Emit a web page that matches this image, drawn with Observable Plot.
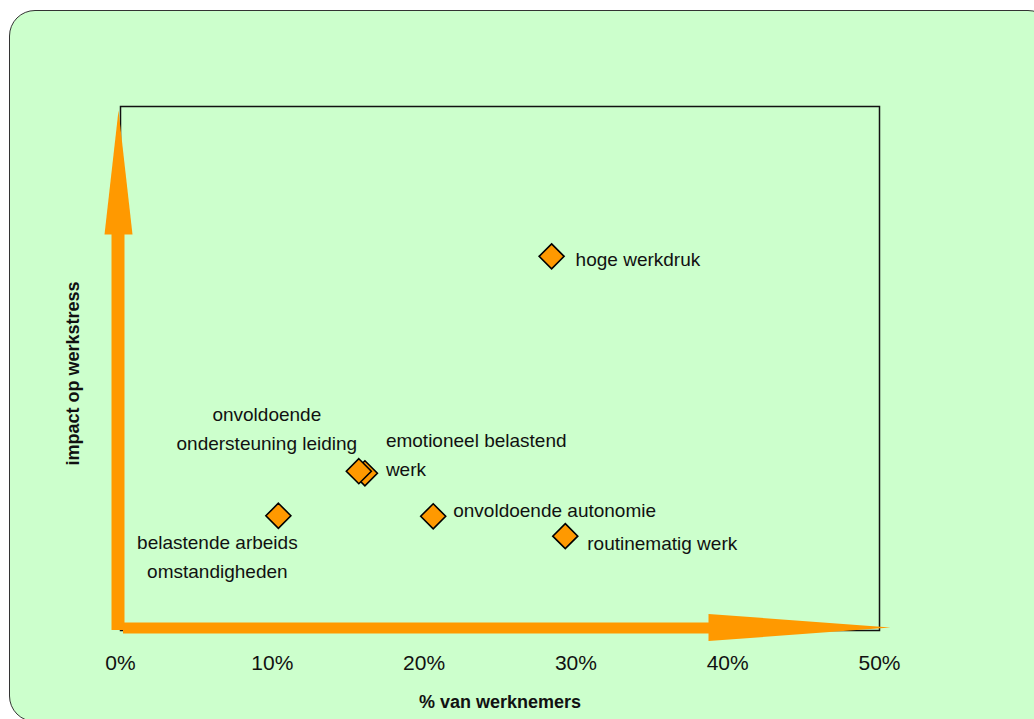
<!DOCTYPE html>
<html><head><meta charset="utf-8">
<script src="https://cdn.jsdelivr.net/npm/d3@7"></script>
<script src="https://cdn.jsdelivr.net/npm/@observablehq/plot@0.6"></script>
<style>
html,body{margin:0;padding:0;background:#fff;width:1034px;height:719px;overflow:hidden;}
#panel{position:absolute;left:9px;top:10px;width:1045px;height:712px;box-sizing:border-box;border:1.5px solid #333;border-radius:26px;background:#CCFFCC;}
#chart{position:absolute;left:0;top:0;}
</style></head><body>
<div id="panel"></div><div id="chart"></div>
<script>
// Data
const factors = ["hoge werkdruk", "emotioneel belastend werk", "onvoldoende ondersteuning leiding", "belastende arbeidsomstandigheden", "onvoldoende autonomie", "routinematig werk"];
const labels = ["hoge werkdruk", "emotioneel belastend\nwerk", "onvoldoende\nondersteuning leiding", "belastende arbeids\nomstandigheden", "onvoldoende autonomie", "routinematig werk"];
const pctWorkers = [28.4, 16.1, 15.7, 10.4, 20.6, 29.3];
const impact = [71.4, 30.0, 30.4, 21.9, 21.8, 18.0];
const xTicks = [0, 10, 20, 30, 40, 50];
const xTitle = "% van werknemers";
const yTitle = "impact op werkstress";

const points = factors.map((f, i) => ({factor: f, label: labels[i], pct: pctWorkers[i], impact: impact[i]}));

const ORANGE = "#FF9900";
const diamond = {draw(ctx) { const r = 12.5; ctx.moveTo(0, -r); ctx.lineTo(r, 0); ctx.lineTo(0, r); ctx.lineTo(-r, 0); ctx.closePath(); }};
const headUp = {draw(ctx) { ctx.moveTo(0, 0); ctx.lineTo(14, 124); ctx.lineTo(-14, 124); ctx.closePath(); }};
const headRight = {draw(ctx) { ctx.moveTo(0, 0); ctx.lineTo(-182, -13.5); ctx.lineTo(-182, 13.5); ctx.closePath(); }};

const labelStyle = {
  "hoge werkdruk": {textAnchor: "start", dx: 24, dy: 4},
  "emotioneel belastend werk": {textAnchor: "start", dx: 21, dy: -21, lineHeight: 1.49},
  "onvoldoende ondersteuning leiding": {textAnchor: "middle", dx: -92, dy: -44.7, lineHeight: 1.54},
  "belastende arbeidsomstandigheden": {textAnchor: "middle", dx: -61, dy: 38.5, lineHeight: 1.53},
  "onvoldoende autonomie": {textAnchor: "start", dx: 20, dy: -5},
  "routinematig werk": {textAnchor: "start", dx: 22, dy: 8}
};

const labelMarks = factors.map(f => Plot.text(points.filter(d => d.factor === f), {
  x: "pct", y: "impact", text: "label", fill: "#111", fontSize: 19, lineAnchor: "middle", ...labelStyle[f]
}));

const chart = Plot.plot({
  width: 1034,
  height: 719,
  marginTop: 106,
  marginRight: 155,
  marginBottom: 89,
  marginLeft: 120,
  style: {fontFamily: "'Liberation Sans', Arial, sans-serif", fontSize: "19px", background: "transparent", color: "#111", overflow: "visible"},
  x: {domain: [0, 50], axis: null},
  y: {domain: [0, 100], axis: null},
  marks: [
    Plot.frame({stroke: "#111", strokeWidth: 1.5}),
    Plot.axisX(xTicks, {tickSize: 0, tickPadding: 25, fontSize: 21, fill: "#111", tickFormat: d => d + "%", label: null}),
    Plot.ruleX([0], {stroke: ORANGE, strokeWidth: 13, dx: -2.5, insetTop: 94}),
    Plot.dot([0], {frameAnchor: "top-left", symbol: headUp, fill: ORANGE, stroke: "none", dx: -2, dy: 4}),
    Plot.ruleY([0], {stroke: ORANGE, strokeWidth: 11, dy: -2.5, insetLeft: 3, insetRight: 80}),
    Plot.dot([0], {frameAnchor: "bottom-right", symbol: headRight, fill: ORANGE, stroke: "none", dx: 11, dy: -3}),
    Plot.dot(points, {x: "pct", y: "impact", symbol: diamond, fill: ORANGE, stroke: "#000", strokeWidth: 1.6}),
    ...labelMarks,
    Plot.text([xTitle], {text: d => d, frameAnchor: "bottom", textAnchor: "middle", dy: 72, lineAnchor: "middle", fontSize: 18, fontWeight: "bold", fill: "#111"}),
    Plot.text([yTitle], {text: d => d, frameAnchor: "left", textAnchor: "middle", rotate: -90, dx: -47, dy: 5, lineAnchor: "middle", fontSize: 18, fontWeight: "bold", fill: "#111"})
  ]
});
document.getElementById("chart").appendChild(chart);
</script>
</body></html>
